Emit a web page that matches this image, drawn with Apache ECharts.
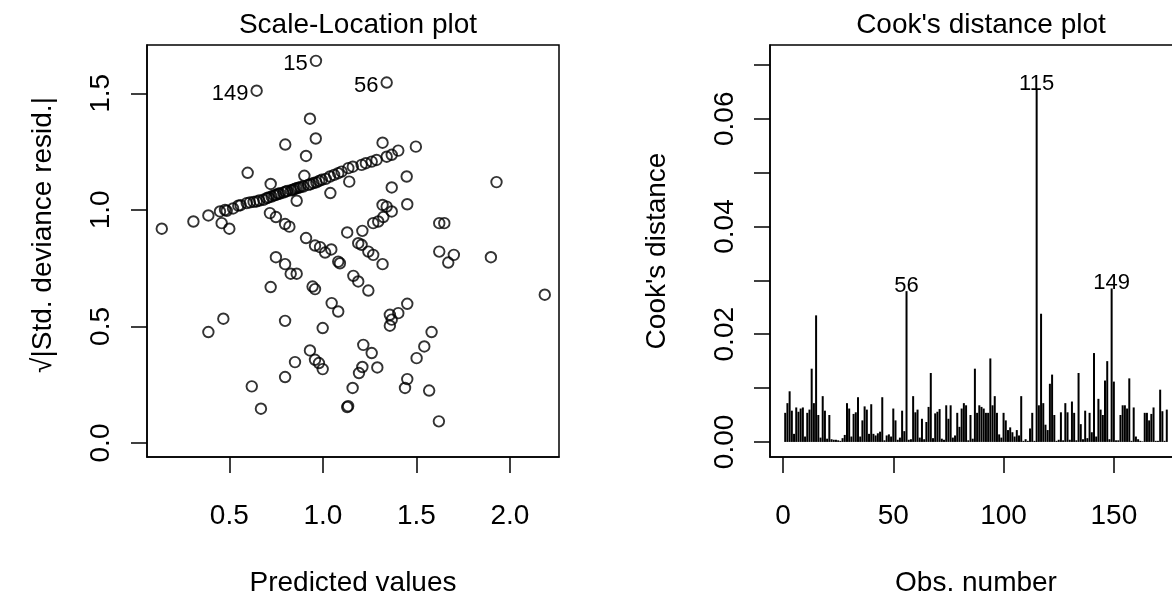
<!DOCTYPE html>
<html>
<head>
<meta charset="utf-8">
<script src="https://cdn.jsdelivr.net/npm/echarts@6/dist/echarts.min.js"></script>
<style>
  html, body { margin: 0; padding: 0; background: #fff; }
  #chart { width: 1172px; height: 594px; }
</style>
</head>
<body>
<div id="chart"></div>
<script>
// Scale-Location plot: fitted values vs sqrt(|std. deviance resid.|)
const predicted = [
  0.139, 0.308, 0.388, 0.450, 0.459, 0.477, 0.486, 0.500, 0.520, 0.548,
  0.560, 0.593, 0.598, 0.610, 0.630, 0.646, 0.660, 0.682, 0.700, 0.710,
  0.717, 0.721, 0.726, 0.740, 0.749, 0.750, 0.762, 0.770, 0.788, 0.798,
  0.799, 0.800, 0.810, 0.821, 0.830, 0.840, 0.850, 0.860, 0.860, 0.870,
  0.880, 0.895, 0.901, 0.910, 0.910, 0.922, 0.931, 0.935, 0.950, 0.958,
  0.962, 0.965, 0.980, 0.985, 0.994, 1.012, 1.015, 1.038, 1.040, 1.045,
  1.060, 1.082, 1.082, 1.091, 1.100, 1.130, 1.136, 1.141, 1.160, 1.189,
  1.207, 1.207, 1.211, 1.230, 1.243, 1.261, 1.269, 1.269, 1.287, 1.296,
  1.319, 1.319, 1.319, 1.323, 1.341, 1.341, 1.368, 1.368, 1.368, 1.403,
  1.448, 1.451, 1.497, 1.928, 1.622, 1.649, 1.622, 1.700, 1.670, 1.898,
  2.186, 1.163, 1.189, 1.243, 1.047, 1.082, 1.451, 1.403, 1.358, 1.368,
  1.358, 1.581, 1.542, 1.216, 1.261, 1.501, 1.211, 1.193, 1.291, 1.451,
  1.439, 1.159, 1.130, 1.135, 1.568, 1.620, 0.749, 0.798, 0.828, 0.860,
  0.721, 0.945, 0.958, 0.468, 0.388, 0.798, 0.999, 0.931, 0.958, 0.979,
  0.999, 0.851, 0.798, 0.620, 0.669
];
const sqrtStdResid = [
  0.919, 0.950, 0.976, 0.993, 0.943, 1.000, 0.996, 0.919, 1.006, 1.018,
  1.020, 1.029, 1.159, 1.032, 1.034, 1.036, 1.040, 1.043, 1.050, 1.053,
  0.986, 1.111, 1.057, 1.062, 0.969, 1.064, 1.069, 1.070, 1.074, 0.939,
  1.280, 1.078, 1.081, 0.928, 1.084, 1.086, 1.090, 1.093, 1.039, 1.095,
  1.097, 1.100, 1.146, 1.231, 0.879, 1.107, 1.391, 1.110, 1.115, 0.847,
  1.306, 1.118, 1.124, 0.840, 1.129, 0.817, 1.133, 1.143, 1.072, 0.830,
  1.150, 1.157, 0.778, 0.771, 1.164, 0.903, 1.179, 1.121, 1.185, 0.857,
  0.850, 1.193, 0.910, 1.200, 0.821, 1.207, 0.807, 0.943, 1.214, 0.950,
  1.288, 1.021, 0.767, 0.969, 1.228, 1.014, 1.236, 1.096, 0.993, 1.254,
  1.143, 1.024, 1.271, 1.119, 0.943, 0.943, 0.821, 0.807, 0.774, 0.797,
  0.636, 0.717, 0.693, 0.654, 0.600, 0.564, 0.597, 0.557, 0.550, 0.529,
  0.503, 0.476, 0.414, 0.421, 0.386, 0.364, 0.326, 0.300, 0.324, 0.274,
  0.236, 0.236, 0.154, 0.158, 0.225, 0.093, 0.797, 0.767, 0.726, 0.726,
  0.669, 0.671, 0.660, 0.533, 0.476, 0.524, 0.493, 0.397, 0.357, 0.343,
  0.317, 0.347, 0.283, 0.243, 0.147
];
// the three flagged observations
const flaggedIds = ['15', '149', '56'];
const flaggedPred = [0.963, 0.646, 1.341];
const flaggedResid = [1.639, 1.511, 1.546];

// Cook's distance per observation (obs 1..174)
const cookD = [
  0.0054, 0.0072, 0.0094, 0.0058, 0.0015, 0.0064, 0.0056, 0.0062, 0.0064, 0.0010,
  0.0054, 0.0060, 0.0136, 0.0072, 0.0235, 0.0050, 0.0008, 0.0085, 0.0058, 0.0006,
  0.0050, 0.0005, 0.0004, 0.0004, 0.0003, 0.0002, 0.0007, 0.0013, 0.0072, 0.0062,
  0.0010, 0.0052, 0.0055, 0.0083, 0.0010, 0.0040, 0.0066, 0.0060, 0.0015, 0.0070,
  0.0015, 0.0012, 0.0016, 0.0019, 0.0083, 0.0003, 0.0012, 0.0014, 0.0010, 0.0062,
  0.0040, 0.0004, 0.0008, 0.0058, 0.0020, 0.0280, 0.0004, 0.0005, 0.0085, 0.0055,
  0.0060, 0.0008, 0.0043, 0.0005, 0.0037, 0.0065, 0.0128, 0.0007, 0.0053, 0.0056,
  0.0061, 0.0006, 0.0004, 0.0068, 0.0043, 0.0068, 0.0008, 0.0012, 0.0054, 0.0028,
  0.0062, 0.0072, 0.0068, 0.0003, 0.0050, 0.0006, 0.0136, 0.0054, 0.0068, 0.0065,
  0.0062, 0.0054, 0.0054, 0.0155, 0.0068, 0.0085, 0.0054, 0.0014, 0.0008, 0.0054,
  0.0040, 0.0022, 0.0027, 0.0018, 0.0010, 0.0022, 0.0012, 0.0085, 0.0002, 0.0005,
  0.0002, 0.0025, 0.0054, 0.0002, 0.0655, 0.0068, 0.0238, 0.0072, 0.0032, 0.0022,
  0.0108, 0.0125, 0.0050, 0.0002, 0.0004, 0.0055, 0.0003, 0.0072, 0.0055, 0.0004,
  0.0075, 0.0054, 0.0003, 0.0128, 0.0033, 0.0005, 0.0058, 0.0007, 0.0054, 0.0018,
  0.0165, 0.0010, 0.0080, 0.0060, 0.0050, 0.0114, 0.0150, 0.0005, 0.0285, 0.0112,
  0.0003, 0.0003, 0.0050, 0.0068, 0.0068, 0.0062, 0.0118, 0.0002, 0.0064, 0.0010,
  0.0005, 0.0002, 0.0001, 0.0054, 0.0054, 0.0040, 0.0052, 0.0064, 0.0002, 0.0002,
  0.0097, 0.0057, 0.0002, 0.0060
];
const cookFlagged = [56, 115, 149];

// tick values
const predTicks = [0.5, 1.0, 1.5, 2.0];
const residTicks = [0.0, 0.5, 1.0, 1.5];
const obsTicks = [0, 50, 100, 150];
const cookTicks = [0, 0.01, 0.02, 0.03, 0.04, 0.05, 0.06, 0.07];
const cookLabels = [0, 0.02, 0.04, 0.06];

const FONT = "'Liberation Sans', Arial, Helvetica, sans-serif";
const black = '#000';

const chart = echarts.init(document.getElementById('chart'), null, { renderer: 'canvas' });

const axisCommon = {
  type: 'value',
  axisLine: { show: true, onZero: false, lineStyle: { color: black, width: 1.5 } },
  axisTick: { show: true, length: 16, lineStyle: { color: black, width: 1.5 } },
  splitLine: { show: false },
  nameLocation: 'middle',
  nameTextStyle: { fontSize: 28, color: black, fontFamily: FONT }
};

const idLabel = { fontSize: 22, color: black, opacity: 1, fontFamily: FONT, textBorderWidth: 0 };

const scatterData = predicted.map((x, i) => [x, sqrtStdResid[i]]);
const flaggedData = flaggedPred.map((x, i) => ({
  value: [x, flaggedResid[i]],
  label: Object.assign({ show: true, formatter: flaggedIds[i] }, idLabel)
}));

const cookData = cookD.map((v, i) => {
  const obs = i + 1;
  if (cookFlagged.includes(obs)) {
    return { value: [obs, v], label: Object.assign({ show: true, formatter: String(obs) }, idLabel) };
  }
  return [obs, v];
});

chart.setOption({
  animation: false,
  backgroundColor: '#fff',
  textStyle: { fontFamily: FONT },
  title: [
    {
      text: 'Scale-Location plot',
      left: 353, top: 6, textAlign: 'center',
      textStyle: { fontSize: 28, fontWeight: 'normal', color: black, fontFamily: FONT }
    },
    {
      text: "Cook's distance plot",
      left: 976, top: 6, textAlign: 'center',
      textStyle: { fontSize: 28, fontWeight: 'normal', color: black, fontFamily: FONT }
    }
  ],
  grid: [
    { left: 147, top: 45, width: 412, height: 412, show: true, borderColor: black, borderWidth: 1.5, outerBoundsMode: 'none' },
    { left: 770, top: 45, width: 412, height: 412, show: true, borderColor: black, borderWidth: 1.5, outerBoundsMode: 'none' }
  ],
  xAxis: [
    Object.assign({}, axisCommon, {
      gridIndex: 0, min: 0.06, max: 2.262,
      name: 'Predicted values', nameGap: 112,
      axisTick: Object.assign({}, axisCommon.axisTick, { customValues: predTicks }),
      axisLabel: {
        customValues: predTicks, margin: 45, fontSize: 28, color: black,
        formatter: v => v.toFixed(1)
      }
    }),
    Object.assign({}, axisCommon, {
      gridIndex: 1, min: -5.9, max: 180.9,
      name: 'Obs. number', nameGap: 112,
      axisTick: Object.assign({}, axisCommon.axisTick, { customValues: obsTicks }),
      axisLabel: {
        customValues: obsTicks, margin: 45, fontSize: 28, color: black,
        formatter: v => String(Math.round(v))
      }
    })
  ],
  yAxis: [
    Object.assign({}, axisCommon, {
      gridIndex: 0, min: -0.06, max: 1.707,
      name: '√|Std. deviance resid.|', nameGap: 90, nameRotate: 90,
      nameTextStyle: { fontSize: 28, color: black, fontFamily: FONT, padding: [0, 0, 0, 32] },
      axisTick: Object.assign({}, axisCommon.axisTick, { customValues: residTicks }),
      axisLabel: {
        customValues: residTicks, margin: 32, rotate: 90, fontSize: 28, color: black,
        formatter: v => v.toFixed(1)
      }
    }),
    Object.assign({}, axisCommon, {
      gridIndex: 1, min: -0.0028, max: 0.0737,
      name: "Cook's distance", nameGap: 99, nameRotate: 90,
      axisTick: Object.assign({}, axisCommon.axisTick, { customValues: cookTicks }),
      axisLabel: {
        customValues: cookLabels, margin: 31, rotate: 90, fontSize: 28, color: black,
        formatter: v => v.toFixed(2)
      }
    })
  ],
  series: [
    {
      type: 'scatter',
      xAxisIndex: 0, yAxisIndex: 0,
      symbol: 'circle', symbolSize: 10.5,
      itemStyle: { color: 'rgba(0,0,0,0)', borderColor: black, borderWidth: 1.9 },
      data: scatterData
    },
    {
      type: 'scatter',
      xAxisIndex: 0, yAxisIndex: 0,
      symbol: 'circle', symbolSize: 10.5,
      itemStyle: { color: 'rgba(0,0,0,0)', borderColor: black, borderWidth: 1.9 },
      label: { position: 'left', distance: 2, offset: [0, 3] },
      data: flaggedData
    },
    {
      type: 'bar',
      xAxisIndex: 1, yAxisIndex: 1,
      barWidth: 2,
      itemStyle: { color: black },
      label: { position: 'top', distance: -6 },
      data: cookData
    }
  ]
});
</script>
</body>
</html>
